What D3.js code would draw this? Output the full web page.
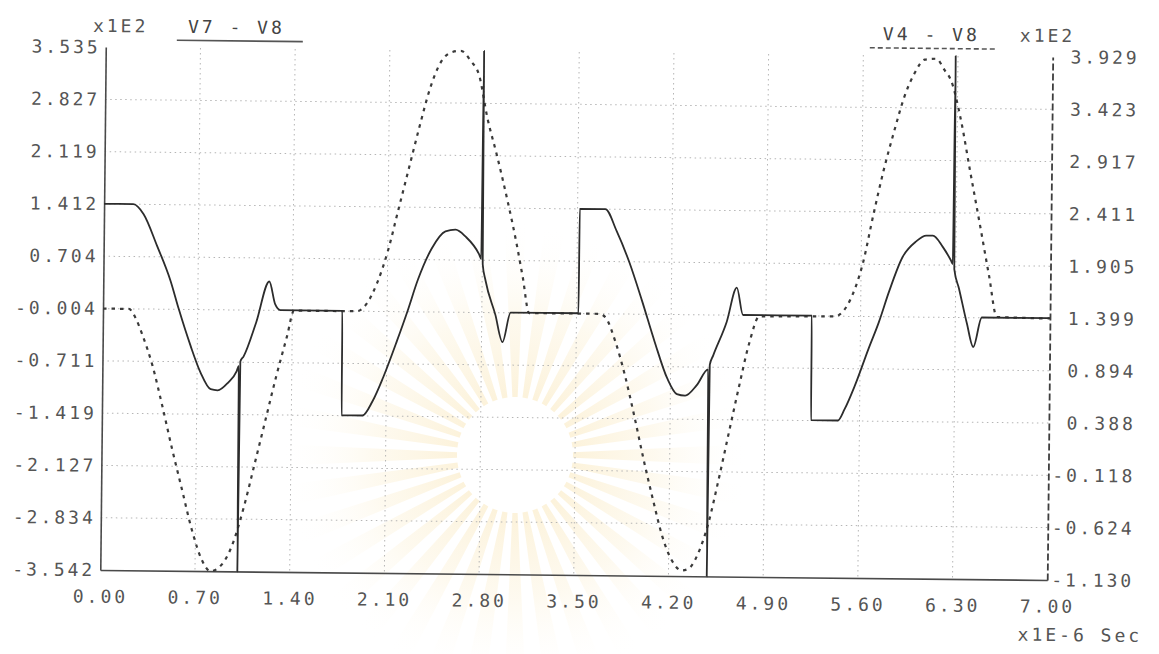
<!DOCTYPE html>
<html>
<head>
<meta charset="utf-8">
<script src="https://cdn.jsdelivr.net/npm/d3@7/dist/d3.min.js"></script>
<style>
  html, body { margin: 0; padding: 0; background: #ffffff; }
  svg { display: block; }
  text {
    font-family: "DejaVu Sans Mono", "Liberation Mono", monospace;
    font-size: 18px;
    letter-spacing: 3px;
    fill: #555555;
  }
</style>
</head>
<body>
<svg id="chart" width="1159" height="654"></svg>
<script>
// ---- axis tick labels ----
const leftTicks  = [3.535, 2.827, 2.119, 1.412, 0.704, -0.004, -0.711, -1.419, -2.127, -2.834, -3.542];
const rightTicks = [3.929, 3.423, 2.917, 2.411, 1.905, 1.399, 0.894, 0.388, -0.118, -0.624, -1.130];
const timeTicks  = [0, 0.7, 1.4, 2.1, 2.8, 3.5, 4.2, 4.9, 5.6, 6.3, 7.0];

// ---- V7 - V8 (x1E2 V) against time (x1E-6 s), left scale ----
const v78Time = [
  0.000, 0.216, 0.293, 0.394, 0.496, 0.560, 0.649, 0.725, 0.802, 0.853,
  0.929, 0.993, 1.008, 1.013, 1.019, 1.043, 1.133, 1.227, 1.272, 1.311,
  1.770, 1.771, 1.925, 2.000, 2.075, 2.175, 2.250, 2.325, 2.425, 2.525,
  2.600, 2.675, 2.775, 2.792, 2.797, 2.803, 2.825, 2.900, 2.955, 3.013,
  3.515, 3.516, 3.705, 3.790, 3.886, 3.983, 4.079, 4.176, 4.248, 4.309,
  4.393, 4.478, 4.483, 4.489, 4.514, 4.610, 4.683, 4.731, 5.240, 5.241,
  5.440, 5.489, 5.563, 5.661, 5.735, 5.809, 5.907, 6.005, 6.079, 6.128,
  6.202, 6.263, 6.278, 6.283, 6.289, 6.325, 6.386, 6.435, 6.496, 7.000
];
const v78Value = [
  1.414, 1.414, 1.279, 0.856, 0.386, 0.000, -0.490, -0.853, -1.080, -1.094,
  -0.990, -0.830, -0.760, -3.542, -0.700, -0.630, -0.170, 0.386, 0.080, 0.000,
  0.000, -1.414, -1.414, -1.216, -0.900, -0.400, 0.000, 0.430, 0.856, 1.090,
  1.115, 1.020, 0.786, 0.720, 3.535, 0.650, 0.430, -0.030, -0.400, 0.000,
  0.000, 1.414, 1.414, 1.120, 0.700, 0.180, -0.370, -0.870, -1.080, -1.100,
  -0.960, -0.740, -3.542, -0.680, -0.550, -0.100, 0.370, 0.000, 0.000, -1.414,
  -1.414, -1.260, -0.940, -0.440, -0.080, 0.340, 0.810, 1.020, 1.100, 1.100,
  0.950, 0.770, 0.720, 3.535, 0.650, 0.390, -0.080, -0.400, 0.000, 0.000
];

// ---- V4 - V8 (x1E2 V) against time (x1E-6 s), right scale ----
const v48Time = [
  0.000, 0.191, 0.242, 0.293, 0.369, 0.445, 0.522, 0.598, 0.674, 0.751,
  0.814, 0.891, 0.967, 1.056, 1.133, 1.209, 1.285, 1.362, 1.412, 1.875,
  1.950, 2.025, 2.100, 2.175, 2.250, 2.325, 2.400, 2.475, 2.550, 2.625,
  2.700, 2.763, 2.825, 2.900, 2.975, 3.050, 3.100, 3.150, 3.669, 3.717,
  3.790, 3.862, 3.934, 4.007, 4.079, 4.152, 4.224, 4.297, 4.345, 4.417,
  4.490, 4.562, 4.635, 4.707, 4.779, 4.852, 5.416, 5.465, 5.539, 5.612,
  5.686, 5.760, 5.833, 5.907, 5.981, 6.054, 6.140, 6.202, 6.251, 6.325,
  6.398, 6.472, 6.546, 6.607, 7.000
];
const v48Value = [
  1.399, 1.399, 1.310, 1.149, 0.857, 0.467, 0.045, -0.345, -0.734, -1.026,
  -1.130, -1.075, -0.896, -0.507, -0.085, 0.337, 0.759, 1.149, 1.399, 1.399,
  1.476, 1.678, 1.980, 2.383, 2.787, 3.190, 3.560, 3.810, 3.910, 3.929,
  3.830, 3.690, 3.290, 2.920, 2.520, 2.080, 1.745, 1.399, 1.399, 1.360,
  1.130, 0.810, 0.420, -0.004, -0.390, -0.750, -0.980, -1.075, -1.060, -0.910,
  -0.620, -0.200, 0.260, 0.710, 1.130, 1.390, 1.399, 1.440, 1.610, 1.910,
  2.380, 2.820, 3.190, 3.530, 3.760, 3.890, 3.900, 3.790, 3.690, 3.320,
  2.820, 2.320, 1.810, 1.410, 1.399
];

const v78 = v78Time.map((t, i) => ({ t, v: v78Value[i] }));
const v48 = v48Time.map((t, i) => ({ t, v: v48Value[i] }));

const svg = d3.select("#chart");

// faint sunburst emblem printed behind the plot
const defs = svg.append("defs");
const rg = defs.append("radialGradient")
  .attr("id", "burst").attr("gradientUnits", "userSpaceOnUse")
  .attr("cx", 0).attr("cy", 0).attr("r", 235);
rg.append("stop").attr("offset", "0.22").attr("stop-color", "#f6d88f").attr("stop-opacity", 0.34);
rg.append("stop").attr("offset", "0.6").attr("stop-color", "#f9e6b6").attr("stop-opacity", 0.22);
rg.append("stop").attr("offset", "1").attr("stop-color", "#ffffff").attr("stop-opacity", 0);
const rays = d3.range(36).map(i => i * 10);
const rayArc = d3.arc().innerRadius(58).outerRadius(235);
svg.append("g")
  .attr("transform", "translate(515,455)")
  .selectAll("path").data(rays).join("path")
  .attr("d", a => rayArc({ startAngle: (a - 2.6) * Math.PI / 180, endAngle: (a + 2.6) * Math.PI / 180 }))
  .attr("fill", "url(#burst)");

// chart body, printed with a slight tilt
const g = svg.append("g").attr("transform", "rotate(0.6,576,313)");

const x  = d3.scaleLinear().domain([0, 7]).range([103, 1050]);
const yL = d3.scaleLinear().domain([-3.542, 3.535]).range([575, 52]);
const yR = d3.scaleLinear().domain([-1.130, 3.929]).range([575, 52]);

// dotted grid
const grid = g.append("g").attr("stroke", "#b5b5b5").attr("stroke-width", 1)
  .attr("stroke-dasharray", "1.5,3.5").attr("fill", "none");
grid.selectAll("line.h").data(leftTicks.slice(1, -1)).join("line")
  .attr("class", "h")
  .attr("x1", x(0)).attr("x2", x(7))
  .attr("y1", d => yL(d)).attr("y2", d => yL(d));
grid.selectAll("line.v").data(timeTicks.slice(1, -1)).join("line")
  .attr("class", "v")
  .attr("x1", d => x(d)).attr("x2", d => x(d))
  .attr("y1", yL(3.535)).attr("y2", yL(-3.542));

// axes
const fmt3 = d => d.toFixed(3);
const fmt2 = d => d.toFixed(2);

const axL = g.append("g").attr("transform", `translate(${x(0)},0)`)
  .call(d3.axisLeft(yL).tickValues(leftTicks).tickFormat(fmt3).tickSize(0).tickSizeOuter(0).tickPadding(5));
axL.select(".domain").attr("stroke", "#4a4a4a").attr("stroke-width", 1.6);

const axR = g.append("g").attr("transform", `translate(${x(7)},0)`)
  .call(d3.axisRight(yR).tickValues(rightTicks).tickFormat(fmt3).tickSize(0).tickSizeOuter(0).tickPadding(0));
axR.select(".domain").attr("stroke", "#3e3e3e").attr("stroke-width", 1.8).attr("stroke-dasharray", "7,3");
axR.selectAll("text").attr("text-anchor", "end").attr("x", 87);

const axB = g.append("g").attr("transform", `translate(0,${yL(-3.542)})`)
  .call(d3.axisBottom(x).tickValues(timeTicks).tickFormat(fmt2).tickSize(0).tickSizeOuter(0).tickPadding(20));
axB.select(".domain").attr("stroke", "#4a4a4a").attr("stroke-width", 1.6);

[axL, axR, axB].forEach(a => a.attr("font-family", null).attr("font-size", null));

// curves
const lineL = d3.line().x(d => x(d.t)).y(d => yL(d.v)).curve(d3.curveMonotoneX);
const lineR = d3.line().x(d => x(d.t)).y(d => yR(d.v)).curve(d3.curveMonotoneX);

g.append("path").datum(v48).attr("d", lineR)
  .attr("fill", "none").attr("stroke", "#3a3a3a").attr("stroke-width", 2.2)
  .attr("stroke-dasharray", "3.5,5");

g.append("path").datum(v78).attr("d", lineL)
  .attr("fill", "none").attr("stroke", "#2c2c2c").attr("stroke-width", 1.8)
  .attr("stroke-linejoin", "round");

// titles and units
g.append("text").attr("x", 90).attr("y", 37).text("x1E2");
g.append("text").attr("x", 185).attr("y", 37).style("fill", "#444").text("V7 - V8");
g.append("line").attr("x1", 174).attr("x2", 300).attr("y1", 44.5).attr("y2", 44.5)
  .attr("stroke", "#555").attr("stroke-width", 1.6);

g.append("text").attr("x", 880).attr("y", 37).style("fill", "#444").text("V4 - V8");
g.append("line").attr("x1", 867).attr("x2", 992).attr("y1", 44.7).attr("y2", 44.7)
  .attr("stroke", "#555").attr("stroke-width", 1.6).attr("stroke-dasharray", "5,3");
g.append("text").attr("x", 1017).attr("y", 37).text("x1E2");

g.append("text").attr("x", 1021).attr("y", 636).text("x1E-6 Sec");
</script>
</body>
</html>
